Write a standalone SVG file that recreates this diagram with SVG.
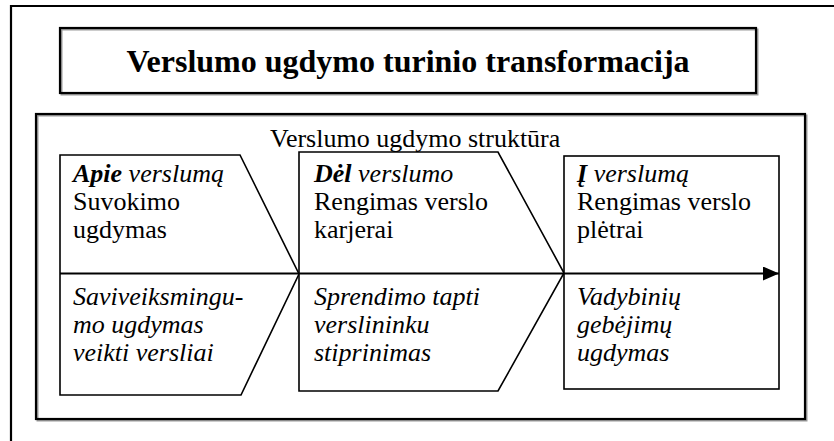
<svg xmlns="http://www.w3.org/2000/svg" width="834" height="441" viewBox="0 0 834 441">
<defs>
<style>
.frame{fill:none;stroke:#000;stroke-width:2.2}
.shadow{fill:none;stroke:#999;stroke-width:2}
.shape{fill:#fff;stroke:#000;stroke-width:1.6}
.t{font-family:"Liberation Serif","Times New Roman",serif;font-size:26px;fill:#000}
.i{font-style:italic}
.b{font-weight:bold}
.title{font-family:"Liberation Serif","Times New Roman",serif;font-size:32px;font-weight:bold;fill:#000}
</style>
<marker id="arr" markerWidth="16" markerHeight="14" refX="16" refY="7" orient="auto" markerUnits="userSpaceOnUse">
<path d="M0,0 L16,7 L0,14 Z" fill="#000"/>
</marker>
</defs>
<rect width="834" height="441" fill="#fff"/>
<g id="outer">
<path class="frame" d="M11,441 L11,6 L834,6"/>
</g>
<g id="title">
<rect class="shadow" x="61.5" y="29.5" width="696" height="65"/>
<rect class="frame" x="60" y="28" width="696" height="65"/>
<text class="title" x="408" y="72" text-anchor="middle">Verslumo ugdymo turinio transformacija</text>
</g>
<g id="structure">
<rect class="shadow" x="37.5" y="115.5" width="769" height="305"/>
<rect class="frame" x="36" y="114" width="769" height="305" fill="#fff"/>
<text class="t" x="270" y="147">Verslumo ugdymo struktūra</text>
</g>
<g id="apie">
<polygon class="shape" points="60,155 240,155 299,274 241,395 60,395"/>
<text class="t i" x="73" y="182"><tspan class="b">Apie</tspan> verslumą</text>
<text class="t" x="73" y="210">Suvokimo</text>
<text class="t" x="73" y="238">ugdymas</text>
<text class="t i" x="73" y="305">Saviveiksmingu-</text>
<text class="t i" x="73" y="333">mo ugdymas</text>
<text class="t i" x="73" y="361">veikti versliai</text>
</g>
<g id="del">
<polygon class="shape" points="299,152 498,152 564,273 498,391 299,391"/>
<text class="t i" x="314" y="182"><tspan class="b">Dėl</tspan> verslumo</text>
<text class="t" x="314" y="210">Rengimas verslo</text>
<text class="t" x="314" y="238">karjerai</text>
<text class="t i" x="314" y="305">Sprendimo tapti</text>
<text class="t i" x="314" y="333">verslininku</text>
<text class="t i" x="314" y="361">stiprinimas</text>
</g>
<g id="i">
<rect class="shape" x="564" y="156" width="215" height="233"/>
<text class="t i" x="577" y="182"><tspan class="b">Į</tspan> verslumą</text>
<text class="t" x="577" y="210">Rengimas verslo</text>
<text class="t" x="577" y="238">plėtrai</text>
<text class="t i" x="577" y="305">Vadybinių</text>
<text class="t i" x="577" y="333">gebėjimų</text>
<text class="t i" x="577" y="361">ugdymas</text>
</g>
<g id="connectors">
<line x1="60" y1="273.5" x2="779" y2="273.5" stroke="#000" stroke-width="2" marker-end="url(#arr)"/>
</g>
</svg>
